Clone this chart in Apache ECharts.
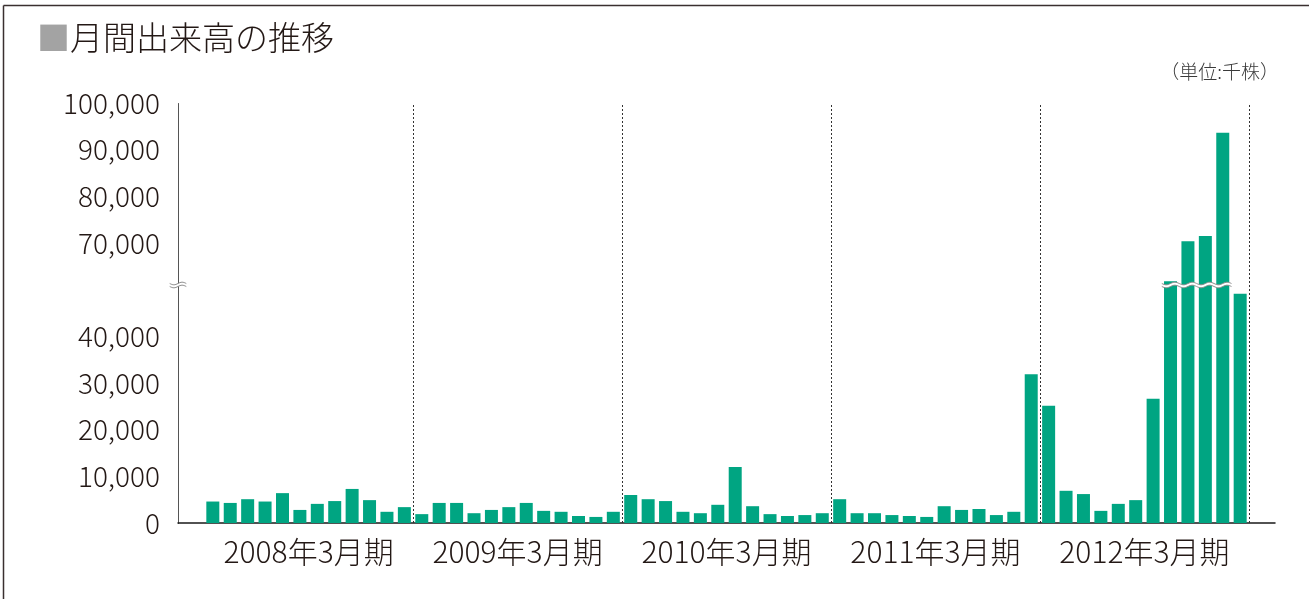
<!DOCTYPE html>
<html>
<head>
<meta charset="utf-8">
<script src="https://cdn.jsdelivr.net/npm/echarts@6.0.0/dist/echarts.min.js"></script>
<style>
html,body{margin:0;padding:0;background:#fff;}
#chart{width:1309px;height:599px;}
</style>
</head>
<body>
<div id="chart"></div>
<script>
// ---- data (thousand shares) ----
const fiscalYears = ['2008年3月期', '2009年3月期', '2010年3月期', '2011年3月期', '2012年3月期'];
const fy2008 = [4600, 4300, 5100, 4600, 6400, 2800, 4100, 4700, 7300, 4900, 2400, 3400];
const fy2009 = [1900, 4300, 4300, 2100, 2800, 3400, 4300, 2600, 2400, 1500, 1300, 2400];
const fy2010 = [6000, 5100, 4700, 2400, 2100, 3900, 12000, 3600, 1900, 1500, 1700, 2100];
const fy2011 = [5100, 2100, 2100, 1700, 1500, 1300, 3600, 2800, 3000, 1700, 2400, 31900];
const fy2012 = [25100, 6900, 6200, 2600, 4100, 4900, 26600, 61800, 70400, 71500, 93600, 49100];
const yTickLabels = [0, 10000, 20000, 30000, 40000, 70000, 80000, 90000, 100000];
const axisBreak = { start: 51000, end: 61000 };

const volumes = [].concat(fy2008, fy2009, fy2010, fy2011, fy2012);
const barData = volumes.map((v, i) => [i, v]);
const yearCenters = fiscalYears.map((_, k) => 12 * k + 5.5);
const yearBounds = fiscalYears.map((_, k) => 12 * (k + 1) - 0.5);
const brokenBars = volumes.map((v, i) => [i, v]).filter(d => d[1] > axisBreak.end).map(d => [d[0], axisBreak.start]);

const TEXT = '#231815';
const FONT = '"Noto Sans CJK JP", "Noto Sans", sans-serif';

function wavyBand(cx, cy, w, h, amp, periods) {
  const n = 16;
  const top = [], bot = [];
  for (let k = 0; k <= n; k++) {
    const t = k / n;
    const x = cx - w / 2 + w * t;
    const dy = amp * Math.sin(t * periods * 2 * Math.PI);
    top.push([x, cy - h / 2 + dy]);
    bot.push([x, cy + h / 2 + dy]);
  }
  return { top, bot };
}

function breakRender(widthFactor) {
  return function (params, api) {
    const c = api.coord([api.value(0), api.value(1)]);
    const slot = api.size([1, 0])[0];
    const w = slot * widthFactor;
    const b = wavyBand(c[0], c[1], w, 3, 1.3, 1);
    const poly = b.top.concat(b.bot.slice().reverse());
    return {
      type: 'group',
      children: [
        { type: 'polygon', shape: { points: poly }, style: { fill: '#fff', stroke: null } },
        { type: 'polyline', shape: { points: b.top }, style: { stroke: '#8a8a8a', lineWidth: 1, fill: null } },
        { type: 'polyline', shape: { points: b.bot }, style: { stroke: '#8a8a8a', lineWidth: 1, fill: null } }
      ]
    };
  };
}

const chart = echarts.init(document.getElementById('chart'), null, { renderer: 'canvas' });
chart.setOption({
  animation: false,
  backgroundColor: '#fff',
  title: {
    left: 32, top: 16,
    text: '{sq|■}{t|月間出来高の推移}',
    textStyle: {
      rich: {
        sq: { color: '#a3a3a3', fontSize: 33, fontFamily: FONT },
        t: { color: TEXT, fontSize: 33, fontFamily: FONT, fontWeight: 300 }
      }
    }
  },
  graphic: [
    { type: 'line', shape: { x1: 3.5, y1: 5.5, x2: 1309, y2: 5.5 }, style: { stroke: '#3a3030', lineWidth: 1.5 } },
    { type: 'line', shape: { x1: 3.5, y1: 5.5, x2: 3.5, y2: 599 }, style: { stroke: '#3a3030', lineWidth: 1.5 } },
    { type: 'text', right: 30, top: 62, style: { text: '（単位:千株）', fill: '#3a3a3a', font: '300 19px ' + FONT } }
  ],
  grid: { left: 178, right: 34, top: 103, bottom: 76, containLabel: false, outerBoundsMode: 'none' },
  xAxis: {
    type: 'value', min: -2, max: 61,
    axisLine: { show: true, onZero: false, lineStyle: { color: '#1a1a1a', width: 1.5 } },
    axisTick: { show: false },
    splitLine: { show: false },
    axisLabel: {
      customValues: yearCenters,
      formatter: v => { const k = yearCenters.indexOf(v); return k >= 0 ? fiscalYears[k] : ''; },
      margin: 14, fontSize: 30, color: TEXT, fontFamily: FONT, fontWeight: 300
    }
  },
  yAxis: {
    type: 'value', min: 0, max: 100000, interval: 10000,
    breaks: [{ start: axisBreak.start, end: axisBreak.end, gap: 0 }],
    breakArea: { show: false },
    axisLine: { show: true, onZero: false, lineStyle: { color: '#555', width: 1 } },
    axisTick: { show: false },
    splitLine: { show: false },
    axisLabel: {
      formatter: v => yTickLabels.indexOf(v) >= 0 ? v.toLocaleString('en-US') : '',
      margin: 18, fontSize: 28, color: TEXT, fontFamily: FONT, fontWeight: 300
    }
  },
  series: [
    {
      type: 'bar', data: barData, barWidth: 13,
      itemStyle: { color: '#00a582' },
      markLine: {
        silent: true, symbol: 'none', animation: false,
        label: { show: false },
        lineStyle: { color: '#333', width: 1, type: [2, 2] },
        data: yearBounds.map(x => ({ xAxis: x }))
      }
    },
    {
      type: 'custom', data: brokenBars, clip: false, z: 5,
      renderItem: breakRender(1.0), silent: true
    },
    {
      type: 'custom', data: [[-2, axisBreak.start]], clip: false, z: 5,
      renderItem: breakRender(0.95), silent: true
    }
  ]
});
</script>
</body>
</html>
